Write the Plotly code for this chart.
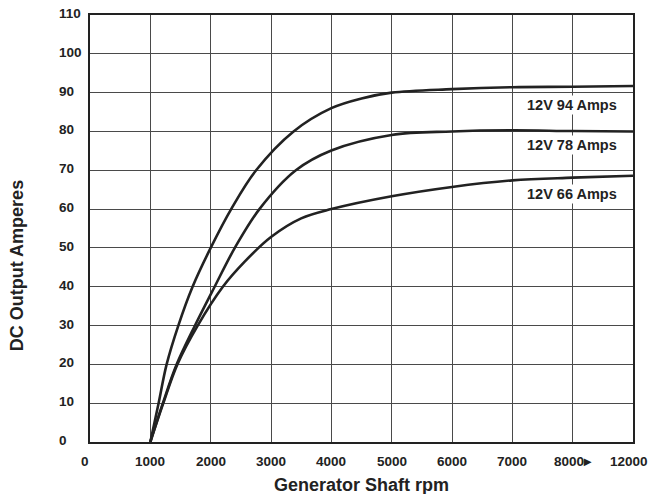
import plotly.graph_objects as go

# ---- data (rpm, amperes) ----
rpm_94 = [1000, 1137, 1270, 1464, 1700, 2000, 2340, 2753, 3374, 4000, 4500, 5000, 6000, 7000, 8000, 12000]
amp_94 = [0, 10, 20, 30, 40, 50, 60, 70, 80, 86, 88.5, 90, 90.9, 91.4, 91.5, 91.7]

rpm_78 = [1000, 1208, 1437, 1740, 2066, 2400, 2808, 3412, 4000, 5000, 6000, 7000, 8000, 12000]
amp_78 = [0, 10, 20, 30, 40, 50, 60, 70, 75.1, 79.1, 80.0, 80.3, 80.1, 80]

rpm_66 = [1000, 1215, 1448, 1785, 2202, 2560, 3000, 3500, 4000, 5000, 6000, 7000, 8000, 12000]
amp_66 = [0, 10, 20, 30, 40, 46.4, 52.8, 57.6, 60, 63.3, 65.7, 67.4, 68.1, 68.6]

series_names = ["12V 94 Amps", "12V 78 Amps", "12V 66 Amps"]
label_y = [86.7, 76.4, 63.8]

x_tick_rpm = [0, 1000, 2000, 3000, 4000, 5000, 6000, 7000, 8000, 12000]
x_tick_text = ["0", "1000", "2000", "3000", "4000", "5000", "6000", "7000", "8000\u25b8", "12000"]
y_ticks = [0, 10, 20, 30, 40, 50, 60, 70, 80, 90, 100, 110]


# broken axis: 0-8000 linear, 8000-12000 compressed into one cell
def pos(r):
    return r / 1000.0 if r <= 8000 else 8 + (r - 8000) / 4000.0


FONT = "Liberation Sans, Arial, sans-serif"
INK = "#222222"
PLOT_W = 543
PLOT_H = 427

fig = go.Figure()
for rr, aa, nm in [(rpm_94, amp_94, series_names[0]),
                   (rpm_78, amp_78, series_names[1]),
                   (rpm_66, amp_66, series_names[2])]:
    fig.add_trace(go.Scatter(
        x=[pos(r) for r in rr], y=aa, mode="lines", name=nm,
        line=dict(color=INK, width=2.6, shape="spline", smoothing=1.0),
        hoverinfo="skip", showlegend=False))

annotations = []
for nm, ly in zip(series_names, label_y):
    annotations.append(dict(
        x=8.77, y=ly, xref="x", yref="y", text=nm, showarrow=False,
        xanchor="right", yanchor="middle", bgcolor="white", borderpad=1,
        font=dict(family=FONT, size=14.5, color=INK, weight="bold")))

# y tick labels (left aligned, as in the reference)
for v in y_ticks:
    annotations.append(dict(
        x=-33 / PLOT_W, y=v, xref="paper", yref="y", text=str(v), showarrow=False,
        xanchor="left", yanchor="middle", yshift=1.5,
        font=dict(family=FONT, size=13.5, color=INK, weight="bold")))

# x tick labels (end labels pulled slightly inward, as in the reference)
n_x = len(x_tick_rpm)
for i, (r, t) in enumerate(zip(x_tick_rpm, x_tick_text)):
    shift = -5 if i == 0 else (-4 if i == n_x - 1 else 0)
    annotations.append(dict(
        x=pos(r), y=-19 / PLOT_H, xref="x", yref="paper", text=t, showarrow=False,
        xanchor="center", yanchor="middle", xshift=shift,
        font=dict(family=FONT, size=13.5, color=INK, weight="bold")))

annotations.append(dict(
    x=0.5, y=-43 / PLOT_H, xref="paper", yref="paper", text="Generator Shaft rpm",
    showarrow=False, xanchor="center", yanchor="middle",
    font=dict(family=FONT, size=18, color=INK, weight="bold")))
annotations.append(dict(
    x=(16.7 - 90) / PLOT_W, y=(442 - 265.5) / PLOT_H, xref="paper", yref="paper",
    text="DC Output Amperes", showarrow=False, textangle=-90,
    xanchor="center", yanchor="middle",
    font=dict(family=FONT, size=18, color=INK, weight="bold")))

fig.update_layout(
    width=649, height=494,
    margin=dict(l=90, r=16, t=15, b=52, autoexpand=False),
    paper_bgcolor="white", plot_bgcolor="white",
    annotations=annotations,
    xaxis=dict(
        range=[0, 9], tickvals=[pos(r) for r in x_tick_rpm], showticklabels=False,
        showgrid=True, gridcolor="#4a4a4a", gridwidth=1,
        showline=True, linecolor=INK, linewidth=1.5, mirror=True,
        ticks="", zeroline=False),
    yaxis=dict(
        range=[0, 110], tickvals=y_ticks, showticklabels=False,
        showgrid=True, gridcolor="#4a4a4a", gridwidth=1,
        showline=True, linecolor=INK, linewidth=1.5, mirror=True,
        ticks="", zeroline=False),
)

fig.write_html("out.html", config={"displayModeBar": False},
               post_script="document.body.style.margin='0';")
